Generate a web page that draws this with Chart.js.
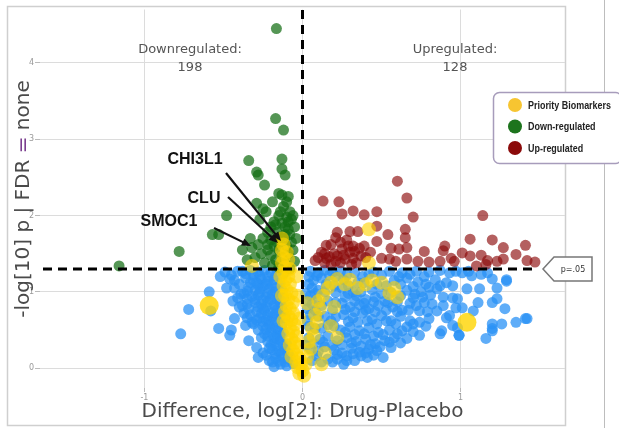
<!DOCTYPE html>
<html lang="en">
<head>
<meta charset="UTF-8">
<title>Volcano plot: Drug vs Placebo</title>
<script src="https://cdn.jsdelivr.net/npm/chart.js"></script>
<style>
  html, body { margin: 0; padding: 0; background: #fff; }
  canvas { display: block; }
</style>
</head>
<body>
<canvas id="volcano" width="619" height="428"></canvas>
<script>
// x = difference log2 (Drug - Placebo), y = -log10 p
const notSignificant = [
  [-0.38,1.27],[-0.33,1.28],[-0.28,1.26],[-0.24,1.28],[-0.20,1.25],[-0.16,1.27],[-0.45,1.22],
  [-0.36,1.18],[-0.31,1.15],[-0.26,1.17],[-0.22,1.14],[-0.18,1.16],[-0.40,1.10],
  [-0.34,1.06],[-0.30,1.02],[-0.25,1.08],[-0.21,1.04],[-0.17,1.05],[-0.37,0.98],
  [-0.32,0.94],[-0.28,0.96],[-0.23,0.93],[-0.19,0.97],[-0.15,0.95],[-0.41,0.92],
  [-0.30,0.86],[-0.26,0.84],[-0.22,0.87],[-0.18,0.83],[-0.14,0.86],[-0.38,0.82],
  [-0.29,0.74],[-0.24,0.76],[-0.20,0.73],[-0.16,0.77],[-0.12,0.74],[-0.33,0.70],
  [-0.27,0.66],[-0.23,0.63],[-0.19,0.67],[-0.15,0.64],[-0.11,0.66],[-0.31,0.58],
  [-0.25,0.55],[-0.21,0.57],[-0.17,0.53],[-0.13,0.56],[-0.28,0.50],
  [-0.24,0.45],[-0.20,0.47],[-0.16,0.43],[-0.12,0.46],[-0.26,0.40],
  [-0.22,0.35],[-0.18,0.33],[-0.14,0.36],[-0.10,0.32],
  [-0.19,0.24],[-0.15,0.22],[-0.11,0.25],[-0.25,0.20],
  [-0.17,0.13],[-0.13,0.15],[-0.09,0.12],[-0.21,0.10],
  [-0.14,0.05],[-0.10,0.03],[-0.06,0.06],[-0.18,0.02],
  [-0.36,1.24],[-0.31,1.22],[-0.27,1.21],[-0.22,1.20],[-0.17,1.21],[-0.12,1.24],[-0.49,1.26],
  [-0.52,1.20],[-0.33,1.12],[-0.28,1.09],[-0.23,1.10],[-0.19,1.09],[-0.14,1.12],[-0.35,1.01],
  [-0.27,0.99],[-0.22,0.98],[-0.17,1.00],[-0.13,1.02],[-0.30,0.90],[-0.25,0.89],[-0.20,0.90],
  [-0.16,0.90],[-0.12,0.92],[-0.35,0.84],[-0.28,0.80],[-0.23,0.80],[-0.17,0.79],[-0.13,0.81],
  [-0.26,0.71],[-0.22,0.69],[-0.17,0.71],[-0.13,0.69],[-0.29,0.63],[-0.25,0.61],[-0.21,0.61],
  [-0.17,0.60],[-0.23,0.51],[-0.19,0.52],[-0.15,0.50],[-0.22,0.42],[-0.18,0.40],[-0.14,0.42],
  [-0.20,0.30],[-0.16,0.29],[-0.12,0.29],[-0.17,0.19],[-0.13,0.20],[-0.09,0.20],[-0.15,0.09],
  [-0.11,0.08],[-0.08,0.15],[-0.43,1.15],[-0.48,1.05],[-0.40,0.80],[-0.37,0.72],
  [-0.77,0.45],[-0.72,0.77],[-0.59,1.00],[-0.58,0.75],[-0.53,0.52],[-0.46,0.43],[-0.45,0.50],
  [-0.46,1.17],[-0.41,1.27],[-0.44,0.88],[-0.35,0.66],[-0.29,0.27],[-0.28,0.14],[-0.43,1.05],
  [-0.43,0.65],[-0.36,0.56],[-0.34,0.36],[-0.23,0.17],[-0.35,0.91],[-0.39,0.97],[-0.34,0.78],
  [-0.29,1.12],[-0.27,1.04],[-0.32,0.60],[-0.25,0.78],[-0.19,0.08],[-0.21,0.26],[-0.16,0.39],
  [0.05,1.27],[0.10,1.25],[0.14,1.28],[0.19,1.26],[0.24,1.27],[0.33,1.25],[0.45,1.26],[0.55,1.27],
  [0.63,1.25],[0.72,1.27],[0.80,1.26],[0.87,1.28],[0.93,1.25],
  [0.07,1.15],[0.12,1.18],[0.26,1.16],[0.35,1.12],[0.47,1.10],[0.58,1.15],[0.66,1.18],[0.73,1.13],
  [0.84,1.16],[0.91,1.12],
  [0.06,1.05],[0.10,1.02],[0.25,1.05],[0.32,1.00],[0.44,1.03],[0.50,0.98],[0.66,1.02],[0.75,1.00],[0.85,1.04],
  [0.05,0.95],[0.09,0.90],[0.27,0.93],[0.34,0.95],[0.40,0.90],[0.46,0.93],[0.52,0.88],[0.62,0.95],
  [0.68,0.85],[0.76,0.93],
  [0.06,0.84],[0.12,0.82],[0.25,0.85],[0.30,0.80],[0.36,0.83],[0.42,0.78],[0.48,0.82],[0.57,0.80],
  [0.63,0.76],[0.72,0.82],[0.85,0.75],
  [0.05,0.70],[0.10,0.68],[0.18,0.62],[0.26,0.70],[0.32,0.66],[0.38,0.72],[0.44,0.64],[0.50,0.69],
  [0.56,0.62],[0.62,0.68],[0.70,0.58],[0.78,0.55],
  [0.04,0.55],[0.08,0.52],[0.20,0.55],[0.24,0.50],[0.30,0.54],[0.36,0.49],[0.42,0.53],[0.48,0.47],
  [0.55,0.50],[0.60,0.45],
  [0.04,0.40],[0.11,0.38],[0.16,0.42],[0.22,0.36],[0.28,0.40],[0.34,0.35],[0.40,0.38],[0.46,0.32],[0.52,0.36],
  [0.05,0.25],[0.10,0.22],[0.14,0.28],[0.20,0.24],[0.25,0.20],[0.31,0.26],[0.36,0.21],[0.42,0.25],
  [0.06,0.10],[0.12,0.08],[0.22,0.12],[0.26,0.05],[0.33,0.10],[0.37,0.16],
  [0.04,1.20],[0.09,1.21],[0.17,1.22],[0.21,1.20],[0.28,1.22],[0.38,1.20],[0.42,1.23],[0.50,1.22],
  [0.61,1.20],[0.68,1.23],[0.77,1.20],[0.97,1.27],[1.05,1.27],[1.17,1.25],
  [0.04,1.10],[0.15,1.10],[0.20,1.08],[0.29,1.08],[0.39,1.12],[0.53,1.08],[0.62,1.10],[0.70,1.07],
  [0.80,1.06],[0.95,1.08],
  [0.08,0.98],[0.14,1.00],[0.21,0.99],[0.29,0.98],[0.37,1.00],[0.56,0.99],[0.71,0.97],[0.81,0.96],
  [0.03,0.88],[0.16,0.88],[0.21,0.86],[0.33,0.88],[0.39,0.85],[0.45,0.87],[0.54,0.86],[0.60,0.87],[0.77,0.86],
  [0.03,0.78],[0.08,0.76],[0.19,0.76],[0.27,0.77],[0.33,0.74],[0.40,0.76],[0.46,0.74],[0.53,0.76],
  [0.60,0.74],[0.67,0.76],[0.79,0.74],
  [0.14,0.68],[0.21,0.67],[0.29,0.61],[0.35,0.60],[0.41,0.62],[0.47,0.58],[0.53,0.62],[0.59,0.58],
  [0.66,0.54],[0.74,0.60],
  [0.12,0.52],[0.16,0.57],[0.27,0.47],[0.33,0.44],[0.39,0.45],[0.45,0.42],[0.51,0.44],[0.58,0.40],
  [0.63,0.49],[0.70,0.48],
  [0.07,0.32],[0.13,0.34],[0.19,0.30],[0.25,0.31],[0.31,0.33],[0.37,0.29],[0.43,0.31],[0.49,0.28],
  [0.56,0.27],[0.62,0.33],
  [0.09,0.16],[0.16,0.12],[0.22,0.18],[0.28,0.16],[0.32,0.19],[0.40,0.20],[0.45,0.17],
  [0.02,0.30],[0.03,0.62],[0.02,0.98],
  [0.51,0.14],[0.41,0.14],[0.28,0.10],[0.19,0.08],[0.47,0.23],[0.55,0.34],[0.66,0.39],[0.74,0.43],
  [0.87,0.45],[0.99,0.43],[1.16,0.39],[1.20,0.49],[1.35,0.60],[1.42,0.65],[1.29,1.14],[1.20,1.17],
  [0.91,0.66],[0.97,0.79],[0.80,0.65],[0.82,0.84],[0.89,0.93],[0.95,0.92],[0.87,1.08],[0.78,1.10],
  [0.70,0.92],[0.74,0.75],[0.68,0.62],
  [1.29,1.16],[1.41,0.65],[1.26,0.58],[1.20,0.58],[1.20,0.52],[1.28,0.78],[1.23,0.91],[1.20,0.86],
  [1.12,1.04],[1.23,1.05],[1.11,0.86],[1.08,0.75],[0.99,0.43],[0.98,0.53],[0.93,0.69],[0.89,0.82],
  [0.88,0.49],[0.95,0.56],[1.01,0.79],[0.98,0.91],[1.04,1.04],[1.07,1.21],[1.01,1.25],[1.13,1.23]
];

const downRegulated = [
  [-0.165,4.45],[-0.17,3.27],[-0.12,3.12],[-0.34,2.72],[-0.29,2.57],[-0.28,2.53],[-0.24,2.40],
  [-0.13,2.74],[-0.13,2.61],[-0.11,2.53],[-0.15,2.29],[-0.13,2.27],[-0.19,2.18],[-0.29,2.16],
  [-0.25,2.09],[-0.48,2.00],[-0.57,1.75],[-0.53,1.75],[-0.78,1.53],[-1.16,1.34],
  [-0.10,2.18],[-0.12,2.12],[-0.08,2.05],[-0.15,2.00],[-0.10,1.98],[-0.07,1.95],[-0.18,1.92],
  [-0.13,1.90],[-0.11,1.85],[-0.09,1.82],[-0.20,1.85],[-0.22,1.78],[-0.16,1.78],[-0.14,1.72],
  [-0.12,1.70],[-0.08,1.75],[-0.25,1.70],[-0.28,1.62],[-0.32,1.58],[-0.22,1.62],[-0.18,1.60],
  [-0.15,1.55],[-0.10,1.60],[-0.07,1.65],[-0.26,1.50],[-0.30,1.45],[-0.20,1.48],[-0.17,1.42],
  [-0.13,1.45],[-0.09,1.50],[-0.06,1.55],[-0.35,1.42],[-0.24,1.38],[-0.19,1.35],[-0.11,1.38],
  [-0.05,1.40],[-0.38,1.55],[-0.33,1.70],[-0.05,1.85],[-0.06,2.00],[-0.09,2.25],[-0.27,1.95],
  [-0.23,2.05],[-0.04,1.70],
  [-0.14,2.05],[-0.17,1.88],[-0.09,1.92],[-0.20,1.68],[-0.16,1.65],[-0.11,1.75],[-0.08,1.30],
  [-0.15,1.32],[-0.22,1.55]
];

const upRegulated = [
  [0.60,2.45],[0.66,2.23],[0.13,2.19],[0.23,2.18],[0.25,2.02],[0.32,2.06],[0.39,2.01],[0.47,2.05],
  [0.70,1.98],[1.14,2.00],[0.22,1.78],[0.21,1.71],[0.30,1.79],[0.35,1.79],[0.47,1.86],[0.54,1.75],
  [0.65,1.82],[0.65,1.71],[0.47,1.66],[0.15,1.61],[0.25,1.56],[0.32,1.60],[0.36,1.57],[0.39,1.60],
  [0.56,1.57],[0.61,1.56],[0.66,1.58],[0.77,1.53],[0.90,1.60],[0.89,1.54],[1.06,1.69],[1.20,1.68],
  [1.27,1.58],[1.41,1.61],[1.35,1.49],[0.08,1.41],[0.15,1.44],[0.22,1.47],[0.27,1.43],[0.32,1.44],
  [0.50,1.44],[0.55,1.43],[0.59,1.40],[0.66,1.43],[0.73,1.40],[0.80,1.39],[0.87,1.40],[0.94,1.44],
  [0.96,1.40],[1.01,1.51],[1.06,1.47],[1.13,1.48],[1.17,1.41],[1.23,1.40],[1.27,1.43],[1.42,1.41],
  [1.47,1.39],[1.10,1.34],[1.16,1.36],[0.12,1.52],[0.18,1.62],[0.20,1.50],[0.28,1.68],[0.34,1.38],
  [0.40,1.45],[0.43,1.52],[0.18,1.36],[0.24,1.65],[0.30,1.52],
  [0.10,1.45],[0.14,1.50],[0.17,1.46],[0.21,1.40],[0.26,1.48],[0.29,1.60],[0.33,1.53],[0.37,1.47],
  [0.14,1.38],[0.24,1.38],[0.31,1.36]
];

const priorityBiomarkers = [
  // slanted column left of zero
  [-0.12,1.62],[-0.13,1.55],[-0.10,1.52],[-0.12,1.45],[-0.09,1.42],[-0.13,1.38],[-0.11,1.32],
  [-0.08,1.30],[-0.12,1.25],[-0.09,1.20],[-0.11,1.15],[-0.08,1.10],[-0.12,1.08],[-0.10,1.02],
  [-0.07,0.98],[-0.11,0.95],[-0.09,0.90],[-0.06,0.86],[-0.10,0.82],[-0.08,0.78],[-0.11,0.74],
  [-0.06,0.72],[-0.09,0.68],[-0.07,0.63],[-0.10,0.60],[-0.05,0.57],[-0.08,0.53],[-0.06,0.48],
  [-0.09,0.45],[-0.04,0.42],[-0.07,0.38],[-0.05,0.33],[-0.08,0.30],[-0.03,0.28],[-0.06,0.23],
  [-0.04,0.18],[-0.07,0.15],[-0.02,0.13],[-0.04,0.08],[-0.01,0.05],[-0.03,0.01],[0.00,-0.03],
  [-0.02,-0.07],[0.01,-0.10],[-0.14,1.20],[-0.13,0.95],[-0.12,0.62],[-0.03,0.95],[-0.04,1.20],
  [-0.02,0.65],
  // branch right of zero
  [0.02,0.05],[0.03,0.15],[0.05,0.25],[0.04,0.35],[0.07,0.42],[0.06,0.52],[0.09,0.60],[0.08,0.70],
  [0.11,0.78],[0.10,0.88],[0.13,0.95],[0.16,1.05],[0.14,0.20],[0.12,0.05],[0.18,0.55],
  [0.18,1.12],[0.22,1.17],[0.27,1.10],[0.30,1.16],[0.35,1.05],[0.40,1.10],[0.44,1.15],[0.50,1.12],
  [0.55,0.98],[0.58,1.05],[0.60,0.93],[0.42,1.38],[0.42,1.82],
  [-0.13,1.70],[-0.32,1.34],[0.20,0.80],[0.22,0.40],[0.03,0.85]
];

const largeBiomarkers = [[-0.59,0.82],[1.04,0.60]];

const xTicks = [-1, 0, 1];
const yTicks = [0, 1, 2, 3, 4];
const pThreshold = 1.30; // -log10(0.05)

const regionLabels = [
  { lines: ['Downregulated:', '198'], x: 190, y: 50 },
  { lines: ['Upregulated:', '128'], x: 455, y: 50 }
];

const geneLabels = [
  { name: 'CHI3L1', tx: 195, ty: 160, from: [226, 173], to: [281, 241] },
  { name: 'CLU', tx: 204, ty: 199, from: [228, 197], to: [278, 243] },
  { name: 'SMOC1', tx: 169, ty: 222, from: [214, 228], to: [251, 246] }
];

const legendItems = [
  { label: 'Priority Biomarkers', color: '#f7c531' },
  { label: 'Down-regulated', color: '#1d741d' },
  { label: 'Up-regulated', color: '#8b0a0a' }
];

const toPoints = arr => arr.map(p => ({ x: p[0], y: p[1] }));

function arrow(ctx, x1, y1, x2, y2) {
  const a = Math.atan2(y2 - y1, x2 - x1);
  ctx.beginPath();
  ctx.moveTo(x1, y1);
  ctx.lineTo(x2 - 6 * Math.cos(a), y2 - 6 * Math.sin(a));
  ctx.stroke();
  ctx.beginPath();
  ctx.moveTo(x2, y2);
  ctx.lineTo(x2 - 10 * Math.cos(a - 0.4), y2 - 10 * Math.sin(a - 0.4));
  ctx.lineTo(x2 - 10 * Math.cos(a + 0.4), y2 - 10 * Math.sin(a + 0.4));
  ctx.closePath();
  ctx.fill();
}

const overlay = {
  id: 'overlay',
  beforeDraw(chart) {
    const ctx = chart.ctx;
    ctx.save();
    ctx.strokeStyle = '#cfcfcf';
    ctx.lineWidth = 1.5;
    ctx.strokeRect(7.5, 6.5, 558, 419);
    ctx.strokeStyle = '#bdbdbd';
    ctx.lineWidth = 1;
    ctx.beginPath();
    ctx.moveTo(604.5, 0);
    ctx.lineTo(604.5, 428);
    ctx.stroke();
    ctx.restore();
  },
  afterDatasetsDraw(chart) {
    const ctx = chart.ctx;
    const xs = chart.scales.x, ys = chart.scales.y;
    const ca = chart.chartArea;
    ctx.save();

    // threshold lines
    ctx.strokeStyle = '#000';
    ctx.lineWidth = 3;
    ctx.setLineDash([9, 6]);
    const yp = ys.getPixelForValue(pThreshold);
    ctx.beginPath();
    ctx.moveTo(ca.left + 3, yp);
    ctx.lineTo(535, yp);
    ctx.stroke();
    const xp = xs.getPixelForValue(0);
    ctx.beginPath();
    ctx.moveTo(xp, 10);
    ctx.lineTo(xp, 385);
    ctx.stroke();
    ctx.setLineDash([]);

    // p=.05 tag
    ctx.fillStyle = '#fff';
    ctx.strokeStyle = '#777';
    ctx.lineWidth = 1.5;
    ctx.beginPath();
    ctx.moveTo(543, yp);
    ctx.lineTo(554, yp - 12);
    ctx.lineTo(592, yp - 12);
    ctx.lineTo(592, yp + 12);
    ctx.lineTo(554, yp + 12);
    ctx.closePath();
    ctx.fill();
    ctx.stroke();
    ctx.fillStyle = '#333';
    ctx.font = '8px "DejaVu Sans"';
    ctx.textAlign = 'center';
    ctx.textBaseline = 'middle';
    ctx.fillText('p=.05', 573, yp + 1);

    // region counts
    ctx.fillStyle = '#555';
    ctx.font = '13px "DejaVu Sans"';
    regionLabels.forEach(r => {
      r.lines.forEach((t, i) => ctx.fillText(t, r.x, r.y + i * 18));
    });

    // gene callouts
    ctx.fillStyle = '#111';
    ctx.strokeStyle = '#111';
    ctx.lineWidth = 2.2;
    ctx.font = 'bold 16px "Liberation Sans", Arial';
    geneLabels.forEach(g => {
      ctx.fillText(g.name, g.tx, g.ty);
      arrow(ctx, g.from[0], g.from[1], g.to[0], g.to[1]);
    });

    // axis titles
    ctx.fillStyle = '#4a4a4a';
    ctx.font = '20px "DejaVu Sans"';
    ctx.fillText('Difference, log[2]: Drug-Placebo', xs.getPixelForValue(0), 412);

    ctx.save();
    ctx.translate(24, 199);
    ctx.rotate(-Math.PI / 2);
    const parts = [['-log[10] p | FDR ', '#4a4a4a'], ['=', '#7b3f8f'], [' none', '#4a4a4a']];
    const total = parts.reduce((s, p) => s + ctx.measureText(p[0]).width, 0);
    let cx = -total / 2;
    ctx.textAlign = 'left';
    parts.forEach(p => {
      ctx.fillStyle = p[1];
      ctx.fillText(p[0], cx, 0);
      cx += ctx.measureText(p[0]).width;
    });
    ctx.restore();

    // legend box
    ctx.fillStyle = '#fff';
    ctx.strokeStyle = '#a79cbb';
    ctx.lineWidth = 1.5;
    ctx.beginPath();
    ctx.roundRect(493.5, 92.5, 128, 71, 6);
    ctx.fill();
    ctx.stroke();
    ctx.textAlign = 'left';
    ctx.font = 'bold 10px "Liberation Sans", Arial';
    const squeeze = 83 / ctx.measureText(legendItems[0].label).width;
    legendItems.forEach((it, i) => {
      const y = 105 + i * 21.5;
      ctx.fillStyle = it.color;
      ctx.beginPath();
      ctx.arc(515, y, 7, 0, Math.PI * 2);
      ctx.fill();
      ctx.fillStyle = '#222';
      ctx.save();
      ctx.translate(528, y + 1);
      ctx.scale(squeeze, 1);
      ctx.fillText(it.label, 0, 0);
      ctx.restore();
    });
    ctx.restore();
  }
};

// Chart.js paints the first dataset last, so the top layer comes first
const ctx = document.getElementById('volcano').getContext('2d');
new Chart(ctx, {
  type: 'scatter',
  data: {
    datasets: [
      { data: toPoints(largeBiomarkers), backgroundColor: 'rgba(255,212,0,0.8)', pointRadius: 9.5 },
      { data: toPoints(priorityBiomarkers), backgroundColor: 'rgba(255,212,0,0.62)', pointRadius: 7 },
      { data: toPoints(upRegulated), backgroundColor: 'rgba(140,10,10,0.65)', pointRadius: 5.5 },
      { data: toPoints(downRegulated), backgroundColor: 'rgba(20,110,20,0.72)', pointRadius: 5.5 },
      { data: toPoints(notSignificant), backgroundColor: 'rgba(41,146,245,0.75)', pointRadius: 5.5 }
    ]
  },
  options: {
    responsive: false,
    animation: false,
    events: [],
    layout: { padding: { left: 8, right: 54, top: 6, bottom: 0 } },
    elements: { point: { borderWidth: 0, hoverRadius: 0 } },
    plugins: { legend: { display: false }, tooltip: { enabled: false } },
    scales: {
      x: {
        type: 'linear',
        min: -1.66,
        max: 1.66,
        afterBuildTicks: s => { s.ticks = xTicks.map(v => ({ value: v })); },
        afterFit: s => { s.height = 40; },
        grid: { color: '#dcdcdc', tickLength: 4, tickColor: '#bbb' },
        border: { display: false },
        ticks: { color: '#999', font: { size: 8, family: 'DejaVu Sans' }, padding: 1 }
      },
      y: {
        min: -0.26,
        max: 4.7,
        afterBuildTicks: s => { s.ticks = yTicks.map(v => ({ value: v })); },
        afterFit: s => { s.width = 32; },
        grid: { color: '#dcdcdc', tickLength: 5, tickColor: '#bbb' },
        border: { display: false },
        ticks: { color: '#999', font: { size: 8, family: 'DejaVu Sans' }, padding: 1 }
      }
    }
  },
  plugins: [overlay]
});
</script>
</body>
</html>
